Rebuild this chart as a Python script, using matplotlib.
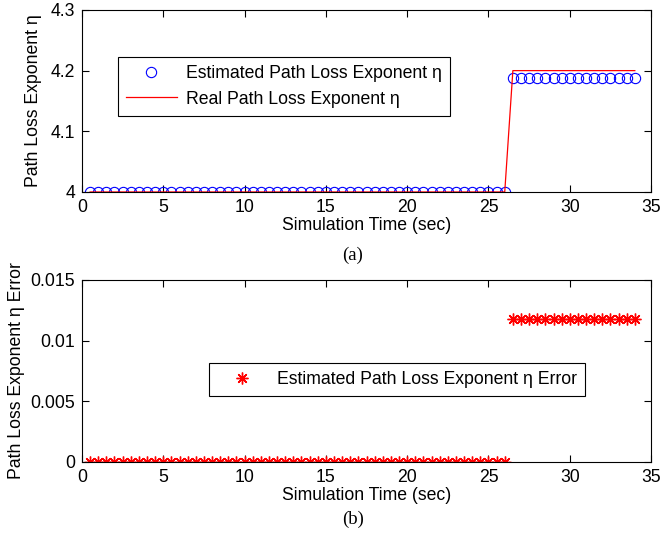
import matplotlib.pyplot as plt

plt.rcParams['font.family'] = ['Liberation Sans', 'DejaVu Sans']

# time axis (sec)
t = [0.5, 1.0, 1.5, 2.0, 2.5, 3.0, 3.5, 4.0, 4.5, 5.0, 5.5, 6.0, 6.5, 7.0, 7.5, 8.0,
     8.5, 9.0, 9.5, 10.0, 10.5, 11.0, 11.5, 12.0, 12.5, 13.0, 13.5, 14.0, 14.5, 15.0,
     15.5, 16.0, 16.5, 17.0, 17.5, 18.0, 18.5, 19.0, 19.5, 20.0, 20.5, 21.0, 21.5, 22.0,
     22.5, 23.0, 23.5, 24.0, 24.5, 25.0, 25.5, 26.0,
     26.5, 27.0, 27.5, 28.0, 28.5, 29.0, 29.5, 30.0, 30.5, 31.0, 31.5, 32.0, 32.5, 33.0,
     33.5, 34.0]

# estimated path loss exponent
est = [4.0, 4.0, 4.0, 4.0, 4.0, 4.0, 4.0, 4.0, 4.0, 4.0, 4.0, 4.0, 4.0, 4.0, 4.0, 4.0,
       4.0, 4.0, 4.0, 4.0, 4.0, 4.0, 4.0, 4.0, 4.0, 4.0, 4.0, 4.0, 4.0, 4.0, 4.0, 4.0,
       4.0, 4.0, 4.0, 4.0, 4.0, 4.0, 4.0, 4.0, 4.0, 4.0, 4.0, 4.0, 4.0, 4.0, 4.0, 4.0,
       4.0, 4.0, 4.0, 4.0,
       4.188, 4.188, 4.188, 4.188, 4.188, 4.188, 4.188, 4.188, 4.188, 4.188, 4.188,
       4.188, 4.188, 4.188, 4.188, 4.188]

# real path loss exponent
real = [4.0, 4.0, 4.0, 4.0, 4.0, 4.0, 4.0, 4.0, 4.0, 4.0, 4.0, 4.0, 4.0, 4.0, 4.0, 4.0,
        4.0, 4.0, 4.0, 4.0, 4.0, 4.0, 4.0, 4.0, 4.0, 4.0, 4.0, 4.0, 4.0, 4.0, 4.0, 4.0,
        4.0, 4.0, 4.0, 4.0, 4.0, 4.0, 4.0, 4.0, 4.0, 4.0, 4.0, 4.0, 4.0, 4.0, 4.0, 4.0,
        4.0, 4.0, 4.0, 4.0,
        4.2, 4.2, 4.2, 4.2, 4.2, 4.2, 4.2, 4.2, 4.2, 4.2, 4.2, 4.2, 4.2, 4.2, 4.2, 4.2]

# estimation error
err = [0.0, 0.0, 0.0, 0.0, 0.0, 0.0, 0.0, 0.0, 0.0, 0.0, 0.0, 0.0, 0.0, 0.0, 0.0, 0.0,
       0.0, 0.0, 0.0, 0.0, 0.0, 0.0, 0.0, 0.0, 0.0, 0.0, 0.0, 0.0, 0.0, 0.0, 0.0, 0.0,
       0.0, 0.0, 0.0, 0.0, 0.0, 0.0, 0.0, 0.0, 0.0, 0.0, 0.0, 0.0, 0.0, 0.0, 0.0, 0.0,
       0.0, 0.0, 0.0, 0.0,
       0.0118, 0.0118, 0.0118, 0.0118, 0.0118, 0.0118, 0.0118, 0.0118, 0.0118, 0.0118,
       0.0118, 0.0118, 0.0118, 0.0118, 0.0118, 0.0118]

fs = 12.7

fig = plt.figure(figsize=(6.61, 5.37), dpi=100)
ax1 = fig.add_axes([0.124, 0.6425, 0.861, 0.339])
ax2 = fig.add_axes([0.124, 0.1397, 0.861, 0.339])

ax1.plot(t, est, 'o', color='#0000ff', mfc='none', ms=7.4, mew=0.8,
         label='Estimated Path Loss Exponent η')
ax1.plot(t, real, '-', color='#ff0000', lw=0.9, label='Real Path Loss Exponent η')
ax1.set_ylim(4, 4.3)
ax1.set_yticks([4, 4.1, 4.2, 4.3])
ax1.set_yticklabels(['4', '4.1', '4.2', '4.3'])
ax1.set_ylabel('Path Loss Exponent η', fontsize=fs, labelpad=6)
leg1 = ax1.legend(loc='upper left', bbox_to_anchor=(0.063, 0.742), borderaxespad=0,
                  fontsize=fs, fancybox=False, edgecolor='black', framealpha=1,
                  handlelength=2.9, handletextpad=0.5, borderpad=0.45, labelspacing=0.5)
leg1.get_frame().set_linewidth(0.8)

ax2.plot(t, err, linestyle='none', marker=(8, 2, 0), color='#ff0000', ms=8.5, mew=1.0,
         label='Estimated Path Loss Exponent η Error')
ax2.set_ylim(0, 0.015)
ax2.set_yticks([0, 0.005, 0.01, 0.015])
ax2.set_yticklabels(['0', '0.005', '0.01', '0.015'])
ax2.set_ylabel('Path Loss Exponent η Error', fontsize=fs, labelpad=4)
leg2 = ax2.legend(loc='upper left', bbox_to_anchor=(0.223, 0.544), borderaxespad=0,
                  fontsize=fs, fancybox=False, edgecolor='black', framealpha=1,
                  handlelength=2.9, handletextpad=0.5, borderpad=0.45)
leg2.get_frame().set_linewidth(0.8)

for ax in (ax1, ax2):
    ax.set_xlim(0, 35)
    ax.set_xticks([0, 5, 10, 15, 20, 25, 30, 35])
    ax.set_xlabel('Simulation Time (sec)', fontsize=fs, labelpad=1)
    ax.tick_params(direction='in', top=True, right=True, labelsize=fs, length=5, width=0.8, pad=5)
    for s in ax.spines.values():
        s.set_linewidth(0.8)

fig.text(0.534, 0.525, '(a)', family='Liberation Serif', fontsize=13.5, ha='center', va='center')
fig.text(0.534, 0.032, '(b)', family='Liberation Serif', fontsize=13.5, ha='center', va='center')

fig.savefig('out.png', dpi=100)
